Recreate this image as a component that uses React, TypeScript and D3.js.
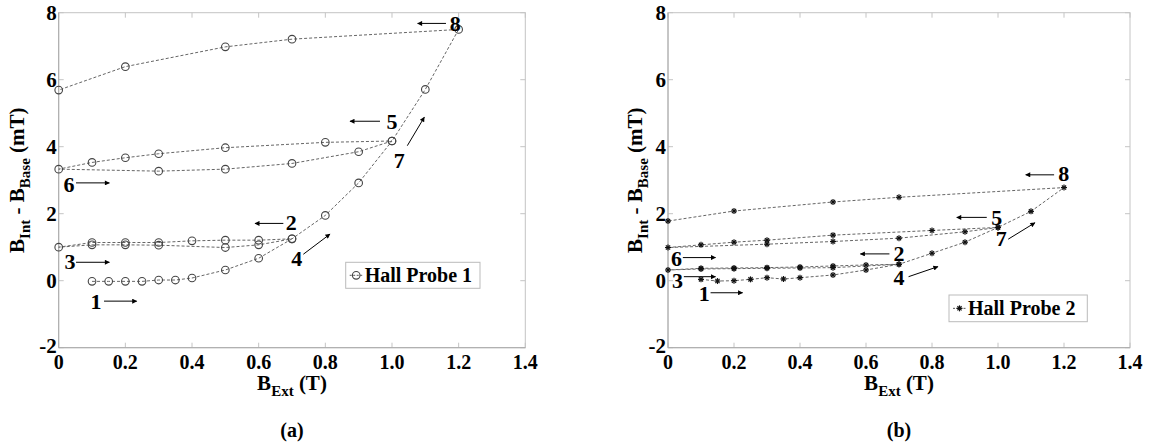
import * as d3 from 'd3';
import * as React from 'react';

const W = 1153;
const H = 448;

const xTicks = [0, 0.2, 0.4, 0.6, 0.8, 1.0, 1.2, 1.4];
const xTickLabels = ['0', '0.2', '0.4', '0.6', '0.8', '1.0', '1.2', '1.4'];
const yTicks = [-2, 0, 2, 4, 6, 8];

type Pt = [number, number];

// Hall Probe 1, branches in the order the field was swept
const hp1Branch1: Pt[] = [[0.1, -0.02], [0.15, -0.02], [0.2, -0.02], [0.25, -0.02], [0.3, 0.02], [0.35, 0.02], [0.4, 0.08], [0.5, 0.32], [0.6, 0.67], [0.7, 1.25]];
const hp1Branch2: Pt[] = [[0.6, 1.21], [0.5, 1.21], [0.4, 1.19], [0.3, 1.14], [0.2, 1.14], [0.1, 1.14], [0, 1.0]];
const hp1Branch3: Pt[] = [[0.1, 1.07], [0.2, 1.07], [0.3, 1.06], [0.5, 0.99], [0.6, 1.07], [0.7, 1.25]];
const hp1Branch4: Pt[] = [[0.8, 1.95], [0.9, 2.92], [1.0, 4.17]];
const hp1Branch5: Pt[] = [[0.8, 4.13], [0.5, 3.97], [0.3, 3.79], [0.2, 3.67], [0.1, 3.53], [0, 3.33]];
const hp1Branch6: Pt[] = [[0.3, 3.27], [0.5, 3.33], [0.7, 3.5], [0.9, 3.85], [1.0, 4.17]];
const hp1Branch7: Pt[] = [[1.1, 5.71], [1.2, 7.5]];
const hp1Branch8: Pt[] = [[0.7, 7.21], [0.5, 6.98], [0.2, 6.39], [0, 5.69]];

// Hall Probe 2
const hp2Branch1: Pt[] = [[0.1, 0.04], [0.15, -0.01], [0.2, 0.0], [0.25, 0.04], [0.3, 0.09], [0.35, 0.05], [0.4, 0.09], [0.5, 0.17], [0.6, 0.32], [0.7, 0.49]];
const hp2Branch2: Pt[] = [[0.6, 0.47], [0.5, 0.44], [0.4, 0.41], [0.3, 0.39], [0.2, 0.38], [0.1, 0.37], [0, 0.32]];
const hp2Branch3: Pt[] = [[0.1, 0.35], [0.2, 0.36], [0.3, 0.37], [0.4, 0.38], [0.5, 0.39], [0.7, 0.49]];
const hp2Branch4: Pt[] = [[0.8, 0.82], [0.9, 1.15], [1.0, 1.59]];
const hp2Branch5: Pt[] = [[0.8, 1.5], [0.5, 1.36], [0.3, 1.21], [0.2, 1.15], [0.1, 1.07], [0, 0.99]];
const hp2Branch6: Pt[] = [[0.3, 1.09], [0.5, 1.17], [0.7, 1.27], [0.9, 1.46], [1.0, 1.59]];
const hp2Branch7: Pt[] = [[1.1, 2.07], [1.2, 2.78]];
const hp2Branch8: Pt[] = [[0.7, 2.49], [0.5, 2.35], [0.2, 2.08], [0, 1.78]];

// step labels: text position and arrow from -> to, in data units
type Note = { t: string; x: number; y: number; a: [number, number, number, number] };
const hp1Notes: Note[] = [
  { t: '1', x: 0.112, y: -0.61, a: [0.136, -0.61, 0.234, -0.61] },
  { t: '2', x: 0.698, y: 1.73, a: [0.674, 1.71, 0.589, 1.71] },
  { t: '3', x: 0.034, y: 0.57, a: [0.052, 0.55, 0.152, 0.55] },
  { t: '4', x: 0.714, y: 0.67, a: [0.734, 0.79, 0.814, 1.39] },
  { t: '5', x: 1.0, y: 4.75, a: [0.964, 4.76, 0.874, 4.76] },
  { t: '6', x: 0.031, y: 2.88, a: [0.052, 2.92, 0.152, 2.92] },
  { t: '7', x: 1.022, y: 3.6, a: [1.046, 4.03, 1.097, 4.88] },
  { t: '8', x: 1.19, y: 7.69, a: [1.162, 7.68, 1.077, 7.68] },
];
const hp2Notes: Note[] = [
  { t: '1', x: 0.11, y: -0.38, a: [0.129, -0.36, 0.226, -0.36] },
  { t: '2', x: 0.7, y: 0.82, a: [0.671, 0.8, 0.583, 0.8] },
  { t: '3', x: 0.029, y: 0.0, a: [0.048, 0.12, 0.144, 0.12] },
  { t: '4', x: 0.7, y: 0.09, a: [0.729, 0.12, 0.818, 0.42] },
  { t: '5', x: 0.996, y: 1.89, a: [0.966, 1.89, 0.875, 1.89] },
  { t: '6', x: 0.026, y: 0.67, a: [0.045, 0.69, 0.144, 0.69] },
  { t: '7', x: 1.01, y: 1.27, a: [1.031, 1.24, 1.112, 1.73] },
  { t: '8', x: 1.199, y: 3.21, a: [1.17, 3.16, 1.084, 3.16] },
];

const hp1 = [hp1Branch1, hp1Branch2, hp1Branch3, hp1Branch4, hp1Branch5, hp1Branch6, hp1Branch7, hp1Branch8].flat();
const hp2 = [hp2Branch1, hp2Branch2, hp2Branch3, hp2Branch4, hp2Branch5, hp2Branch6, hp2Branch7, hp2Branch8].flat();

const font = 'Liberation Serif, DejaVu Serif, serif';

const Star = ({ x, y, r = 3 }: { x: number; y: number; r?: number }) => {
  const d = r * 0.7;
  return (
    <g stroke="#111" strokeWidth={1.2}>
      <line x1={x - r} y1={y} x2={x + r} y2={y} />
      <line x1={x} y1={y - r} x2={x} y2={y + r} />
      <line x1={x - d} y1={y - d} x2={x + d} y2={y + d} />
      <line x1={x - d} y1={y + d} x2={x + d} y2={y - d} />
    </g>
  );
};

type PanelProps = {
  data: Pt[];
  notes: Note[];
  left: number;
  right: number;
  marker: 'circle' | 'star';
  legend: string;
  legendBox: [number, number, number, number];
  tag: string;
  yLabelX: number;
};

const top = 12.7;
const bottom = 347.7;

const Panel = ({ data, notes, left, right, marker, legend, legendBox, tag, yLabelX }: PanelProps) => {
  const x = d3.scaleLinear().domain([0, 1.4]).range([left, right]);
  const y = d3.scaleLinear().domain([-2, 8]).range([bottom, top]);
  const line = d3.line<Pt>().x(d => x(d[0])).y(d => y(d[1]));
  const cx = (left + right) / 2;
  const cy = (top + bottom) / 2;
  const [lx0, ly0, lx1, ly1] = legendBox;
  const lmy = (ly0 + ly1) / 2;

  const mark = (px: number, py: number, key: React.Key) =>
    marker === 'circle' ? (
      <circle key={key} cx={px} cy={py} r={3.8} fill="none" stroke="#444" strokeWidth={1.1} />
    ) : (
      <Star key={key} x={px} y={py} />
    );

  return (
    <g style={{ fontFamily: font, fontWeight: 'bold' }}>
      {/* frame */}
      <rect x={left} y={top} width={right - left} height={bottom - top} fill="none" stroke="#c4c4c4" strokeWidth={1} />
      {xTicks.map(t => (
        <g key={'x' + t} stroke="#c4c4c4">
          <line x1={x(t)} x2={x(t)} y1={bottom} y2={bottom - 5} />
          <line x1={x(t)} x2={x(t)} y1={top} y2={top + 5} />
        </g>
      ))}
      {yTicks.map(t => (
        <g key={'y' + t} stroke="#c4c4c4">
          <line x1={left} x2={left + 5} y1={y(t)} y2={y(t)} />
          <line x1={right} x2={right - 5} y1={y(t)} y2={y(t)} />
        </g>
      ))}
      <line x1={left} x2={left} y1={top} y2={bottom} stroke="#aaa" />
      <line x1={left} x2={right} y1={bottom} y2={bottom} stroke="#aaa" />

      {/* tick labels */}
      {xTicks.map((t, i) => (
        <text key={'xl' + t} x={x(t)} y={369} fontSize={20} textAnchor="middle">
          {xTickLabels[i]}
        </text>
      ))}
      {yTicks.map(t => (
        <text key={'yl' + t} x={left - 2} y={y(t) - (t === -2 ? 2 : 0)} dy="0.35em" fontSize={21} textAnchor="end">
          {t}
        </text>
      ))}

      {/* axis titles */}
      <text x={cx} y={390} fontSize={21} textAnchor="middle">
        B<tspan fontSize={15} dy={6}>Ext</tspan>
        <tspan dy={-6}> (T)</tspan>
      </text>
      <text transform={`translate(${yLabelX},${cy}) rotate(-90)`} fontSize={21} textAnchor="middle">
        B<tspan fontSize={15} dy={6}>Int</tspan>
        <tspan dy={-6}> - B</tspan>
        <tspan fontSize={15} dy={6}>Base</tspan>
        <tspan dy={-6}> (mT)</tspan>
      </text>
      <text x={cx} y={437} fontSize={20} textAnchor="middle">
        {tag}
      </text>

      {/* data */}
      <path d={line(data) || ''} fill="none" stroke="#666" strokeWidth={1} strokeDasharray="3,2" />
      {data.map((d, i) => mark(x(d[0]), y(d[1]), i))}

      {/* step annotations */}
      {notes.map(n => (
        <g key={'n' + n.t}>
          <line
            x1={x(n.a[0])}
            y1={y(n.a[1])}
            x2={x(n.a[2])}
            y2={y(n.a[3])}
            stroke="#000"
            strokeWidth={1}
            markerEnd="url(#arrowHead)"
          />
          <text x={x(n.x)} y={y(n.y)} dy="0.35em" fontSize={22} textAnchor="middle">
            {n.t}
          </text>
        </g>
      ))}

      {/* legend */}
      <rect x={lx0} y={ly0} width={lx1 - lx0} height={ly1 - ly0} fill="#fff" stroke="#bbb" />
      <line x1={lx0 + 4} x2={lx0 + 17} y1={lmy} y2={lmy} stroke="#555" strokeDasharray="2,1.5" />
      {mark(lx0 + 10.5, lmy, 'leg')}
      <text x={lx0 + 19} y={lmy} dy="0.35em" fontSize={20}>
        {legend}
      </text>
    </g>
  );
};

export default function App() {
  return (
    <svg width={W} height={H} style={{ position: 'absolute', left: 0, top: 0, background: '#fff' }}>
      <defs>
        <marker id="arrowHead" viewBox="0 0 10 10" refX={9} refY={5} markerWidth={7} markerHeight={5} orient="auto" markerUnits="userSpaceOnUse">
          <path d="M0,0 L10,5 L0,10 z" fill="#000" />
        </marker>
      </defs>
      <Panel
        data={hp1}
        notes={hp1Notes}
        left={58.7}
        right={525.3}
        marker="circle"
        legend="Hall Probe 1"
        legendBox={[345.7, 262.3, 480, 288.3]}
        tag="(a)"
        yLabelX={24}
      />
      <Panel
        data={hp2}
        notes={hp2Notes}
        left={668}
        right={1130}
        marker="star"
        legend="Hall Probe 2"
        legendBox={[949, 295, 1087.3, 321.7]}
        tag="(b)"
        yLabelX={642}
      />
    </svg>
  );
}
